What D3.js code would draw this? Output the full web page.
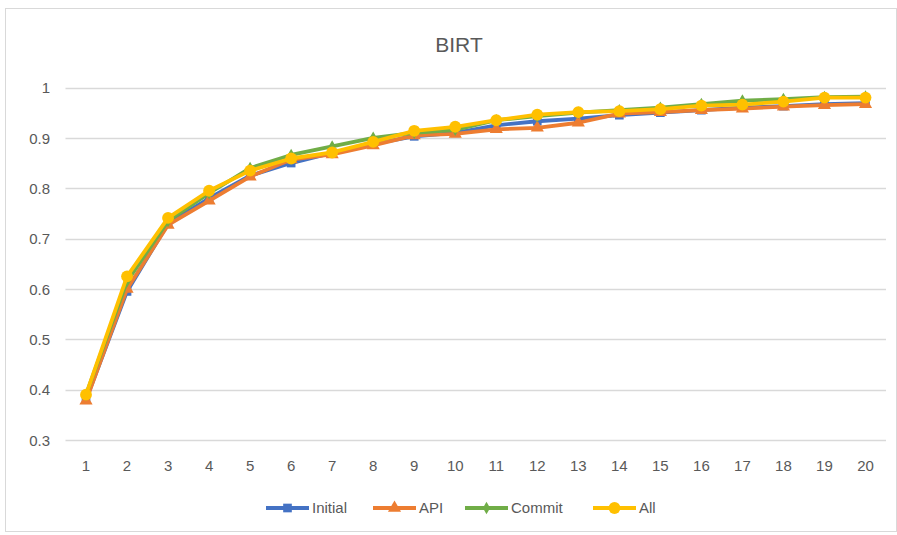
<!DOCTYPE html>
<html>
<head>
<meta charset="utf-8">
<script src="https://cdn.jsdelivr.net/npm/d3@7"></script>
<style>
  body { margin: 0; background: #fff; }
  text { font-family: "Liberation Sans Narrow", "Liberation Sans", sans-serif; fill: #595959; }
</style>
</head>
<body>
<script>
// chart data
const categories = d3.range(1, 21);
const initialVals = [0.38, 0.595, 0.73, 0.78, 0.825, 0.85, 0.87, 0.888, 0.903, 0.91, 0.925, 0.933, 0.938, 0.945, 0.95, 0.955, 0.96, 0.963, 0.967, 0.969];
const apiVals     = [0.378, 0.6, 0.727, 0.775, 0.823, 0.857, 0.867, 0.885, 0.905, 0.908, 0.917, 0.92, 0.93, 0.948, 0.951, 0.955, 0.958, 0.962, 0.965, 0.967];
const commitVals  = [0.39, 0.615, 0.735, 0.79, 0.84, 0.866, 0.883, 0.9, 0.91, 0.916, 0.935, 0.943, 0.95, 0.955, 0.96, 0.967, 0.974, 0.977, 0.981, 0.982];
const allVals     = [0.39, 0.625, 0.741, 0.795, 0.835, 0.859, 0.871, 0.892, 0.914, 0.922, 0.935, 0.946, 0.951, 0.953, 0.957, 0.964, 0.966, 0.972, 0.98, 0.98];
const yTicks = [0.3, 0.4, 0.5, 0.6, 0.7, 0.8, 0.9, 1];

const series = [
  { name: 'Initial', values: initialVals, color: '#4472C4', marker: d3.symbolSquare, size: 75 },
  { name: 'API', values: apiVals, color: '#ED7D31', marker: d3.symbolTriangle, size: 75 },
  { name: 'Commit', values: commitVals, color: '#70AD47', marker: d3.symbolDiamond, size: 45 },
  { name: 'All', values: allVals, color: '#FFC000', marker: d3.symbolCircle, size: 110 }
];

const W = 897, H = 535;
const margin = { top: 87, bottom: 95, left: 65.5, right: 11 };

const svg = d3.select('body').append('svg')
  .attr('width', W)
  .attr('height', H);

// chart frame
svg.append('rect')
  .attr('x', 5.5).attr('y', 8.5)
  .attr('width', W - 6).attr('height', H - 12)
  .attr('fill', '#fff').attr('stroke', '#d9d9d9');

svg.append('text')
  .attr('x', 459).attr('y', 52)
  .attr('text-anchor', 'middle')
  .style('font-size', '21px')
  .text('BIRT');

const x = d3.scaleBand().domain(categories).range([margin.left, W - margin.right]);
const y = d3.scaleLinear().domain([0.3, 1]).range([440, 87.5]);

// gridlines
svg.append('g').selectAll('line').data(yTicks).join('line')
  .attr('x1', margin.left).attr('x2', W - margin.right)
  .attr('y1', d => Math.round(y(d)) + 0.5).attr('y2', d => Math.round(y(d)) + 0.5)
  .attr('stroke', '#d9d9d9').attr('stroke-width', 1.5);

const yAxis = svg.append('g')
  .attr('transform', 'translate(' + 50 + ',0)')
  .call(d3.axisLeft(y).tickValues(yTicks).tickSize(0).tickPadding(0).tickFormat(d => d === 1 ? '1' : d3.format('.1f')(d)));
yAxis.select('.domain').remove();
yAxis.selectAll('text').style('font-size', '15px').attr('dy', '0.35em');

const xAxis = svg.append('g')
  .attr('transform', 'translate(0,' + 440 + ')')
  .call(d3.axisBottom(x).tickSize(0).tickPadding(0));
xAxis.select('.domain').remove();
xAxis.selectAll('text').style('font-size', '15px').attr('y', 31).attr('dy', 0);

const cx = d => x(d) + x.bandwidth() / 2;

const line = d3.line()
  .x((d, i) => cx(categories[i]))
  .y(d => y(d));

series.forEach(s => {
  const g = svg.append('g');
  g.append('path')
    .datum(s.values)
    .attr('fill', 'none')
    .attr('stroke', s.color)
    .attr('stroke-width', 3.8)
    .attr('stroke-linejoin', 'round')
    .attr('d', line);
  g.selectAll('path.m').data(s.values).join('path')
    .attr('class', 'm')
    .attr('transform', (d, i) => 'translate(' + cx(categories[i]) + ',' + y(d) + ')')
    .attr('d', d3.symbol().type(s.marker).size(s.size))
    .attr('fill', s.color);
});

// legend
const legendX = [266, 373, 465, 593];
const legend = svg.append('g');
series.forEach((s, i) => {
  const lg = legend.append('g').attr('transform', 'translate(' + legendX[i] + ',' + 508 + ')');
  lg.append('line').attr('x1', 0).attr('x2', 43).attr('stroke', s.color).attr('stroke-width', 3.8);
  lg.append('path').attr('transform', 'translate(21.5,0)')
    .attr('d', d3.symbol().type(s.marker).size(s.size)).attr('fill', s.color);
  lg.append('text').attr('x', 46).attr('dy', '0.35em').style('font-size', '15px').text(s.name);
});
</script>
</body>
</html>
